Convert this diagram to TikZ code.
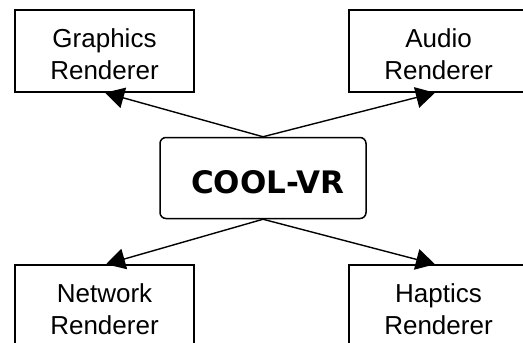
\documentclass[tikz,border=0pt]{standalone}
\usepackage{fontspec}
\setmainfont{Liberation Sans}
\newfontfamily\coolfont{DejaVu Sans}
\usetikzlibrary{arrows.meta}
\begin{document}
\begin{tikzpicture}[x=1pt,y=-1pt,
  rendbox/.style={draw,line width=1.5pt,minimum width=179pt,minimum height=82pt,inner sep=0pt},
  rendtext/.style={align=center,inner sep=0pt,font=\fontsize{26pt}{32pt}\selectfont},
  corebox/.style={draw,line width=1.5pt,rounded corners=6pt,minimum width=206pt,minimum height=81pt,inner sep=0pt},
  arr/.style={line width=1.4pt,-{Triangle[length=19pt,width=21pt]}}]
\useasboundingbox[fill=white] (0,0) rectangle (523,343);
\node[rendbox] (g) at (104.5,51) {};
\node[rendbox] (a) at (438.5,51) {};
\node[rendbox] (n) at (104.5,306) {};
\node[rendbox] (h) at (438.5,306) {};
\node[rendtext] (gt) at (104.5,54.3) {Graphics\\Renderer};
\node[rendtext] (at) at (438.5,54.3) {Audio\\Renderer};
\node[rendtext] (nt) at (104.5,309.3) {Network\\Renderer};
\node[rendtext] (ht) at (438.5,309.3) {Haptics\\Renderer};
\node[corebox] (c) at (263,178) {};
\node[inner sep=0pt,font=\coolfont\bfseries\fontsize{31pt}{36pt}\selectfont] (ct) at (268,182) {COOL-VR};
\draw[arr] (c.north) -- ([xshift=0.5pt]g.south);
\draw[arr] (c.north) -- ([xshift=-3.5pt]a.south);
\draw[arr] (c.south) -- ([xshift=1.5pt]n.north);
\draw[arr] (c.south) -- ([xshift=-3.5pt]h.north);
\end{tikzpicture}
\end{document}
